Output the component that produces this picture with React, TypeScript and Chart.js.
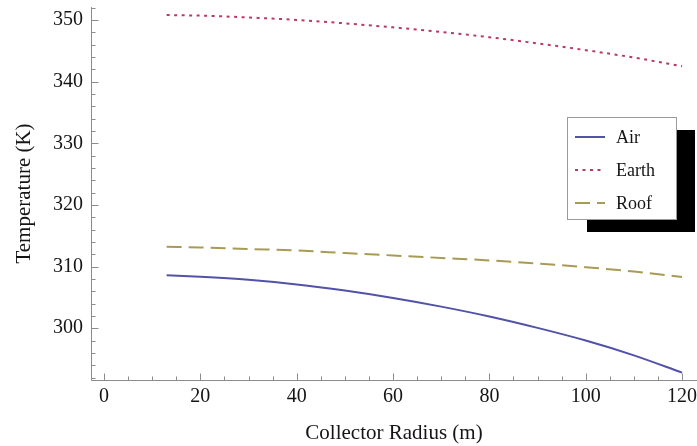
import React, { useEffect, useRef } from "react";
import { Chart, registerables } from "chart.js";

Chart.register(...registerables);

// ---- data ----
const radius = [13, 20, 30, 40, 50, 60, 70, 80, 90, 100, 110, 120];
const airTemp = [308.6, 308.35, 307.85, 307.1, 306.1, 304.9, 303.5, 301.9, 300.05, 298.0, 295.6, 292.8];
const earthTemp = [350.8, 350.7, 350.4, 350.0, 349.45, 348.8, 348.05, 347.2, 346.2, 345.1, 343.9, 342.5];
const roofTemp = [313.2, 313.1, 312.85, 312.6, 312.2, 311.8, 311.4, 311.0, 310.5, 309.9, 309.2, 308.3];
const seriesNames = ["Air", "Earth", "Roof"];
const xTickValues = [0, 20, 40, 60, 80, 100, 120];
const yTickValues = [300, 310, 320, 330, 340, 350];
const xMinorStep = 5;
const yMinorStep = 2;
const xTitle = "Collector Radius (m)";
const yTitle = "Temperature (K)";

const FONT = "'Liberation Serif', 'Times New Roman', serif";
const TEXT = "#151515";

const toPoints = (ys: number[]) => radius.map((x, i) => ({ x, y: ys[i] }));

const axesPlugin = {
  id: "frameAxes",
  afterDraw(chart: any) {
    const { ctx, chartArea: a, scales } = chart;
    const x = scales.x;
    const y = scales.y;
    ctx.save();
    ctx.strokeStyle = "#8c8c8c";
    ctx.lineWidth = 1;
    ctx.beginPath();
    const ax = Math.round(a.left) + 0.5;
    const ay = Math.round(a.bottom) + 0.5;
    ctx.moveTo(ax, a.top);
    ctx.lineTo(ax, ay);
    ctx.lineTo(a.right, ay);
    for (let v = Math.ceil(x.min / xMinorStep) * xMinorStep; v <= x.max; v += xMinorStep) {
      const px = Math.round(x.getPixelForValue(v)) + 0.5;
      const len = xTickValues.includes(v) ? 7 : 4;
      ctx.moveTo(px, ay);
      ctx.lineTo(px, ay - len);
    }
    for (let v = Math.ceil(y.min / yMinorStep) * yMinorStep; v <= y.max; v += yMinorStep) {
      const py = Math.round(y.getPixelForValue(v)) + 0.5;
      const len = yTickValues.includes(v) ? 7 : 4;
      ctx.moveTo(ax, py);
      ctx.lineTo(ax + len, py);
    }
    ctx.stroke();
    ctx.restore();
  },
};

const legendPlugin = {
  id: "shadowLegend",
  afterDraw(chart: any) {
    const { ctx } = chart;
    const bx = 567, by = 117, bw = 109, bh = 102;
    ctx.save();
    ctx.fillStyle = "#000";
    ctx.fillRect(bx + 20, by + 13, bw - 1, bh);
    ctx.fillStyle = "#fff";
    ctx.fillRect(bx, by, bw, bh);
    ctx.strokeStyle = "#9a9a9a";
    ctx.lineWidth = 1;
    ctx.strokeRect(bx + 0.5, by + 0.5, bw, bh);
    chart.data.datasets.forEach((ds: any, i: number) => {
      const cy = by + 20 + i * 33;
      ctx.strokeStyle = ds.borderColor;
      ctx.lineWidth = ds.borderWidth;
      ctx.setLineDash(ds.borderDash || []);
      ctx.beginPath();
      ctx.moveTo(bx + 8, cy);
      ctx.lineTo(bx + 38, cy);
      ctx.stroke();
      ctx.setLineDash([]);
      ctx.fillStyle = TEXT;
      ctx.font = `18px ${FONT}`;
      ctx.textBaseline = "middle";
      ctx.textAlign = "left";
      ctx.fillText(ds.label, bx + 49, cy + 1);
    });
    ctx.restore();
  },
};

export default function App() {
  const ref = useRef<HTMLCanvasElement | null>(null);
  useEffect(() => {
    if (!ref.current) return;
    const chart = new Chart(ref.current, {
      type: "line",
      data: {
        datasets: [
          {
            label: seriesNames[0],
            data: toPoints(airTemp),
            borderColor: "#5252a8",
            borderWidth: 2,
            pointRadius: 0,
            cubicInterpolationMode: "monotone",
          },
          {
            label: seriesNames[1],
            data: toPoints(earthTemp),
            borderColor: "#b83a64",
            borderWidth: 2,
            borderDash: [3, 4.5],
            pointRadius: 0,
            cubicInterpolationMode: "monotone",
          },
          {
            label: seriesNames[2],
            data: toPoints(roofTemp),
            borderColor: "#a89b55",
            borderWidth: 2,
            borderDash: [15, 7],
            pointRadius: 0,
            cubicInterpolationMode: "monotone",
          },
        ],
      },
      options: {
        animation: false,
        responsive: false,
        layout: { padding: { top: 7, right: 0, left: 0, bottom: 0 } },
        plugins: { legend: { display: false }, tooltip: { enabled: false } },
        scales: {
          x: {
            type: "linear",
            min: -2.7,
            max: 123.1,
            grid: { display: false, drawTicks: false },
            border: { display: false },
            afterBuildTicks: (s: any) => {
              s.ticks = xTickValues.map((v) => ({ value: v }));
            },
            afterFit: (s: any) => {
              s.height = 66;
              s.paddingLeft = 0;
              s.paddingRight = 0;
            },
            ticks: {
              font: { family: FONT, size: 20 },
              color: TEXT,
              padding: 5,
              maxRotation: 0,
              autoSkip: false,
            },
            title: {
              display: true,
              text: xTitle,
              font: { family: FONT, size: 21 },
              color: TEXT,
              padding: { top: 8, bottom: 0 },
            },
          },
          y: {
            type: "linear",
            min: 291.6,
            max: 352.1,
            grid: { display: false, drawTicks: false },
            border: { display: false },
            afterBuildTicks: (s: any) => {
              s.ticks = yTickValues.map((v) => ({ value: v }));
            },
            afterFit: (s: any) => {
              s.width = 91;
              s.paddingTop = 0;
              s.paddingBottom = 0;
            },
            ticks: {
              font: { family: FONT, size: 20 },
              color: TEXT,
              padding: 8,
              autoSkip: false,
            },
            title: {
              display: true,
              text: yTitle,
              font: { family: FONT, size: 21 },
              color: TEXT,
              padding: { top: 12, bottom: 0 },
            },
          },
        },
      },
      plugins: [axesPlugin, legendPlugin],
    } as any);
    return () => chart.destroy();
  }, []);
  return (
    <div style={{ position: "fixed", left: 0, top: 0, width: 697, height: 446, background: "#fff" }}>
      <canvas ref={ref} width={697} height={446} style={{ display: "block" }} />
    </div>
  );
}
